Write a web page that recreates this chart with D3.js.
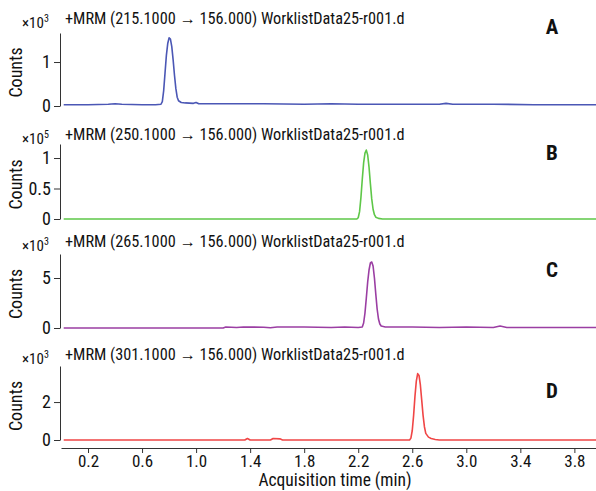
<!DOCTYPE html>
<html>
<head>
<meta charset="utf-8">
<script src="https://cdn.jsdelivr.net/npm/d3@7/dist/d3.min.js"></script>
<style>
  body { margin: 0; background: #fff; }
  svg text { font-family: "Liberation Sans Narrow", "Arial Narrow", "Roboto Condensed", "Liberation Sans", sans-serif; fill: #111; }
</style>
</head>
<body>
<div id="chart"></div>
<script>
// transitions, one per panel
const titles = [
  '+MRM (215.1000 \u2192 156.000) WorklistData25-r001.d',
  '+MRM (250.1000 \u2192 156.000) WorklistData25-r001.d',
  '+MRM (265.1000 \u2192 156.000) WorklistData25-r001.d',
  '+MRM (301.1000 \u2192 156.000) WorklistData25-r001.d'
]
const letters = ['A', 'B', 'C', 'D']
const exponents = [3, 5, 3, 3]
const yMax = [1.66, 1.23, 7.4, 3.9]
const yTicks = [[0, 1], [0, 0.5, 1], [0, 5], [0, 2]]
const xTicks = [0.2, 0.6, 1.0, 1.4, 1.8, 2.2, 2.6, 3.0, 3.4, 3.8]
const colors = ['#4b57b5', '#5ec748', '#9b3ea3', '#f04646']

// [time (min), counts in units of 10^exp]
const traceA = [[0.02,0.03],[0.2,0.03],[0.35,0.04],[0.4,0.05],[0.45,0.04],[0.6,0.03],[0.7,0.03],
  [0.74,0.04],[0.75,0.1],[0.76,0.35],[0.77,0.75],[0.78,1.15],[0.79,1.42],[0.80,1.55],[0.81,1.52],
  [0.82,1.35],[0.83,1.05],[0.84,0.7],[0.85,0.4],[0.86,0.2],[0.87,0.12],[0.89,0.08],[0.92,0.07],
  [0.98,0.06],[1.0,0.08],[1.02,0.05],[1.2,0.05],[1.5,0.05],[1.8,0.04],[2.0,0.05],[2.2,0.04],
  [2.5,0.04],[2.8,0.04],[2.85,0.06],[2.9,0.04],[3.2,0.04],[3.5,0.03],[3.96,0.03]]
const traceB = [[0.02,0],[2.19,0],[2.2,0.02],[2.21,0.12],[2.22,0.35],[2.23,0.65],[2.24,0.92],
  [2.25,1.08],[2.26,1.13],[2.27,1.05],[2.28,0.85],[2.29,0.58],[2.30,0.33],[2.31,0.16],[2.32,0.07],
  [2.33,0.03],[2.35,0.01],[2.38,0],[3.96,0]]
const traceC = [[0.02,0],[1.2,0],[1.22,0.1],[1.3,0.05],[1.35,0.1],[1.5,0.08],[1.55,0.02],[1.6,0.1],
  [1.8,0.1],[2.0,0.05],[2.1,0.1],[2.2,0.05],[2.23,0.1],[2.24,0.5],[2.25,1.5],[2.26,3.0],[2.27,4.6],
  [2.28,5.8],[2.29,6.5],[2.30,6.6],[2.31,6.2],[2.32,5.0],[2.33,3.4],[2.34,1.9],[2.35,0.9],[2.36,0.4],
  [2.37,0.2],[2.4,0.1],[2.6,0.1],[2.8,0.05],[3.0,0.1],[3.2,0.05],[3.25,0.2],[3.3,0.05],[3.5,0.05],[3.96,0.05]]
const traceD = [[0.02,0],[1.36,0],[1.38,0.08],[1.4,0],[1.55,0],[1.57,0.08],[1.62,0.06],[1.64,0],
  [2.58,0],[2.59,0.1],[2.60,0.5],[2.61,1.3],[2.62,2.3],[2.63,3.1],[2.64,3.5],[2.65,3.4],[2.66,2.9],
  [2.67,2.1],[2.68,1.3],[2.69,0.7],[2.70,0.35],[2.72,0.15],[2.74,0.08],[2.77,0.03],[2.8,0],[3.96,0]]
const traces = [traceA, traceB, traceC, traceD]

// panel layout (pixels): axis top, zero line, title baseline, letter baseline
const panelTop = [33, 144, 254, 366]
const panelZero = [106, 219, 328, 440]
const titleY = [24, 140, 247, 360]
const letterY = [34, 160, 277, 398]

const width = 596
const height = 491
const left = 61
const axisY = 448

const svg = d3.select('#chart').append('svg')
  .attr('width', width)
  .attr('height', height)

const x = d3.scaleLinear()
  .domain([0, 3.96])
  .range([left, width])

traces.forEach((trace, i) => {
  const y = d3.scaleLinear()
    .domain([0, yMax[i]])
    .range([panelZero[i], panelTop[i]])

  const g = svg.append('g')

  const yAxis = g.append('g')
    .attr('transform', `translate(${left - 1}, 0)`)
    .call(d3.axisLeft(y).tickValues(yTicks[i]).tickSize(6).tickPadding(3)
      .tickFormat((d) => d3.format('~g')(d)).tickSizeOuter(0))
  yAxis.attr('font-family', null)
  yAxis.select('.domain').attr('stroke', '#333')
  yAxis.selectAll('.tick line').attr('stroke', '#333')
  yAxis.selectAll('.tick text')
    .attr('font-size', 18)
    .attr('fill', '#111')

  g.append('path')
    .datum(trace)
    .attr('fill', 'none')
    .attr('stroke', colors[i])
    .attr('stroke-width', 1.6)
    .attr('stroke-linejoin', 'round')
    .attr('d', d3.line().x((d) => x(d[0])).y((d) => y(d[1])))

  g.append('text')
    .attr('x', 65)
    .attr('y', titleY[i])
    .attr('font-size', 16.3)
    .text(titles[i])

  const mult = g.append('text')
    .attr('x', 22)
    .attr('y', titleY[i] + 4)
    .attr('font-size', 15)
  mult.append('tspan').text('\u00d710')
  mult.append('tspan').attr('dy', -6).attr('font-size', 10).text(exponents[i])

  g.append('text')
    .attr('transform', `translate(22, ${(panelTop[i] + panelZero[i]) / 2 + 3}) rotate(-90)`)
    .attr('text-anchor', 'middle')
    .attr('font-size', 18)
    .text('Counts')

  g.append('text')
    .attr('x', 552)
    .attr('y', letterY[i])
    .attr('text-anchor', 'middle')
    .attr('font-size', 21)
    .attr('font-weight', 'bold')
    .text(letters[i])
})

const xAxis = svg.append('g')
  .attr('transform', `translate(0, ${axisY})`)
  .call(d3.axisBottom(x).tickValues(xTicks).tickSize(5).tickPadding(2)
    .tickFormat(d3.format('.1f')).tickSizeOuter(0))
xAxis.attr('font-family', null)
xAxis.select('.domain').attr('stroke', '#333')
xAxis.selectAll('.tick line').attr('stroke', '#333')
xAxis.selectAll('.tick text')
  .attr('font-size', 17)
  .attr('fill', '#111')

svg.append('text')
  .attr('x', 335)
  .attr('y', 486)
  .attr('text-anchor', 'middle')
  .attr('font-size', 17.5)
  .text('Acquisition time (min)')
</script>
</body>
</html>
